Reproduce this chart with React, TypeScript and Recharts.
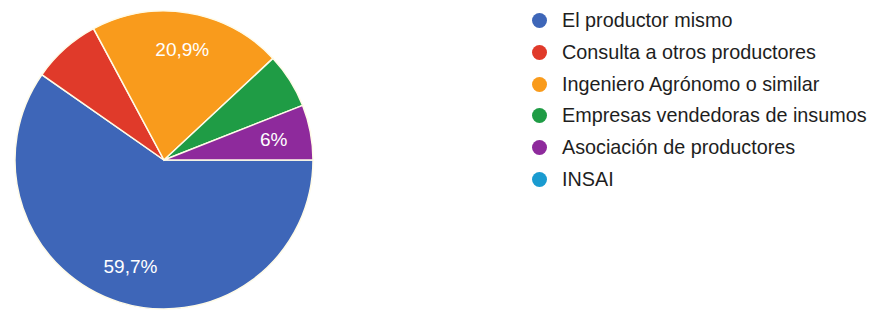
import React from 'react';
import { PieChart, Pie, Cell, Legend } from 'recharts';

// respuestas (67 en total) y etiquetas tal como se ven en el gráfico
const categories = [
  'El productor mismo',
  'Consulta a otros productores',
  'Ingeniero Agrónomo o similar',
  'Empresas vendedoras de insumos',
  'Asociación de productores',
  'INSAI',
];
const counts = [40, 5, 14, 4, 4, 0];
const sliceLabels = ['59,7%', '', '20,9%', '', '6%', ''];
const colors = ['#3e66b8', '#e03a2a', '#f99b1c', '#1f9c45', '#8e2a9c', '#1a9bd0'];

const data = categories.map((name, i) => ({ name, value: counts[i] }));

const RADIAN = Math.PI / 180;

const SliceLabel = (props: any) => {
  const { cx, cy, midAngle, outerRadius, index } = props;
  const text = sliceLabels[index];
  if (!text) return null;
  const r = outerRadius * 0.75;
  const x = cx + r * Math.cos(-midAngle * RADIAN);
  const y = cy + r * Math.sin(-midAngle * RADIAN);
  return (
    <text
      x={x}
      y={y}
      fill="#ffffff"
      textAnchor="middle"
      dominantBaseline="central"
      fontSize={19}
      fontFamily="'Liberation Sans', Arial, sans-serif"
    >
      {text}
    </text>
  );
};

const renderLegend = () => (
  <div style={{ position: 'absolute', left: 532, top: 5 }}>
    {categories.map((name, i) => (
      <div key={name} style={{ display: 'flex', alignItems: 'center', height: 31.7 }}>
        <span
          style={{
            width: 15,
            height: 15,
            borderRadius: '50%',
            background: colors[i],
            marginRight: 15,
            flexShrink: 0,
          }}
        />
        <span
          style={{
            fontFamily: "'Liberation Sans', Arial, sans-serif",
            fontSize: 19.8,
            color: '#1e1e1e',
            whiteSpace: 'nowrap',
          }}
        >
          {name}
        </span>
      </div>
    ))}
  </div>
);

export default function App() {
  return (
    <div style={{ position: 'absolute', left: 0, top: 0, width: 877, height: 312, background: '#fff' }}>
      <PieChart width={877} height={312} margin={{ top: 0, right: 0, bottom: 0, left: 0 }}>
        <Pie
          data={data}
          dataKey="value"
          nameKey="name"
          cx={164}
          cy={160}
          outerRadius={149}
          startAngle={0}
          endAngle={-360}
          stroke="#fffbe8"
          strokeWidth={1.5}
          label={SliceLabel}
          labelLine={false}
          isAnimationActive={false}
        >
          {data.map((d, i) => (
            <Cell key={d.name} fill={colors[i]} />
          ))}
        </Pie>
        <Legend content={renderLegend} wrapperStyle={{ left: 0, top: 0, width: 877, height: 312 }} />
      </PieChart>
    </div>
  );
}
